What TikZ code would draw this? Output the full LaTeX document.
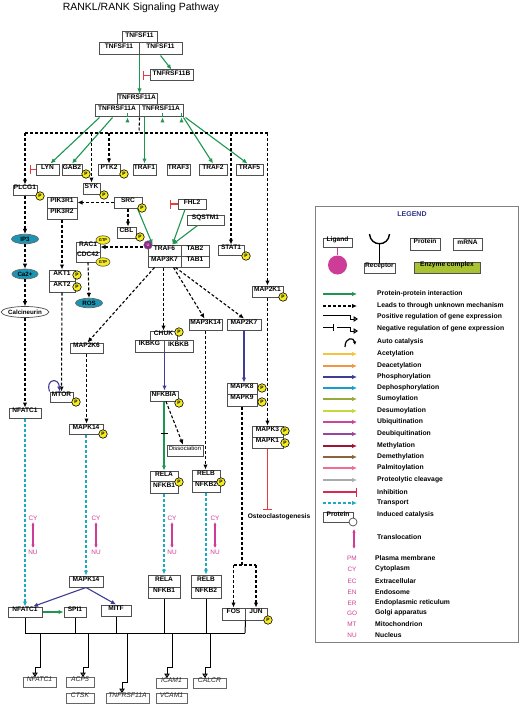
\documentclass[tikz,border=0pt]{standalone}
\usepackage{fontspec}
\setmainfont{Liberation Sans}
\usetikzlibrary{arrows.meta,shapes.geometric,calc,fit}
\definecolor{cPPI}{RGB}{30,150,80}
\definecolor{cPhos}{RGB}{60,62,150}
\definecolor{cInh}{RGB}{230,60,60}
\definecolor{cTr}{RGB}{30,170,190}
\definecolor{cMag}{RGB}{205,60,150}
\definecolor{cEll}{RGB}{25,150,180}
\definecolor{cP}{RGB}{245,235,30}
\definecolor{cBox}{RGB}{80,80,80}
\definecolor{cNavy}{RGB}{50,50,140}
\definecolor{cEnz}{RGB}{168,194,50}
\definecolor{cUb}{RGB}{140,40,140}
\newcommand\bxn[5][]{\node[bx,fit={(#3)(#4)},#1] (#2) {#5};}
\newcommand\gbx[4]{\node[gene,fit={(#2)(#3)}] (#1) {#4};}
\begin{document}
\begin{tikzpicture}[x=1pt,y=-1pt,
  bx/.style={draw=cBox, line width=1pt, fill=white, inner sep=0pt, font=\bfseries\fontsize{6.6}{7}\selectfont},
  gene/.style={draw=black!60, line width=0.8pt, fill=white, inner sep=0pt, font=\itshape\fontsize{6.8}{7}\selectfont, text=black!85},
  pc/.style={circle, draw=black, line width=0.6pt, fill=cP, inner sep=0pt, minimum size=8.5pt, font=\bfseries\fontsize{4.8}{5}\selectfont},
  gtp/.style={ellipse, draw=black!70, line width=0.6pt, fill=cP, inner sep=0pt, minimum width=14pt, minimum height=8.5pt, font=\bfseries\fontsize{4}{4}\selectfont},
  ell/.style={ellipse, draw=black!60, line width=0.7pt, fill=cEll, inner sep=0pt, font=\bfseries\fontsize{6.2}{7}\selectfont},
  ppi/.style={draw=cPPI, line width=1.1pt, -{Latex[length=5pt,width=4.5pt]}},
  unk/.style={draw=black, line width=1.1pt, dash pattern=on 3pt off 2pt, -{Latex[length=5pt,width=4.5pt]}},
  unkl/.style={draw=black, line width=1.1pt, dash pattern=on 3pt off 2pt},
  phos/.style={draw=cPhos, line width=1.1pt, -{Latex[length=5pt,width=4.5pt]}},
  inh/.style={draw=cInh, line width=1.1pt, -{Bar[width=9pt]}},
  tr/.style={draw=cTr, line width=1.2pt, dash pattern=on 3pt off 2pt, -{Latex[length=5pt,width=4.5pt]}},
  trl/.style={draw=cMag, line width=1.2pt, {Latex[length=3.5pt,width=3.5pt]}-{Latex[length=3.5pt,width=3.5pt]}},
  gexp/.style={draw=black, line width=1pt, -{Triangle[open, length=4.5pt, width=5.5pt]}},
  busl/.style={draw=black, line width=1pt},
  cyt/.style={text=cMag, font=\fontsize{6.4}{7}\selectfont, inner sep=1.5pt},
  lt/.style={anchor=west, font=\bfseries\fontsize{6.8}{8}\selectfont, inner sep=0pt}
]
\useasboundingbox (0,0) rectangle (520,706);
\fill[white] (0,0) rectangle (520,706);
\node[font=\fontsize{10.5}{12}\selectfont] (title) at (141,8) {RANKL/RANK Signaling Pathway};

% ---------- boxes ----------
\bxn{tnfA}{122,32}{157,43}{TNFSF11}
\bxn{tnfB}{99,43}{139,55}{TNFSF11}
\bxn{tnfC}{139,43}{182,55}{TNFSF11}
\bxn{opg}{150,70}{193,81}{TNFRSF11B}
\bxn{rankA}{117,94}{157,105}{TNFRSF11A}
\bxn{rankB}{95,105}{139,117}{TNFRSF11A}
\bxn{rankC}{139,105}{183,117}{TNFRSF11A}
\bxn{lyn}{36,164}{59,175}{LYN}
\bxn{gab2}{62,164}{82,175}{GAB2}
\bxn{ptk2}{98,164}{120,175}{PTK2}
\bxn{traf1}{133,164}{156,175}{TRAF1}
\bxn{traf3}{167,164}{190,175}{TRAF3}
\bxn{traf2}{199,164}{227,175}{TRAF2}
\bxn{traf5}{236,164}{263,175}{TRAF5}
\bxn{plcg1}{13,185}{37,195}{PLCG1}
\bxn{syk}{83,183}{100,194}{SYK}
\bxn{src}{114,197}{142,208}{SRC}
\bxn{pik3r1}{47,197}{77,208}{PIK3R1}
\bxn{pik3r2}{47,208}{77,219}{PIK3R2}
\bxn{cbl}{117,227}{136,238}{CBL}
\bxn{fhl2}{178,199}{206,209}{FHL2}
\bxn{sqstm1}{187,215}{224,225}{SQSTM1}
\bxn{traf6}{148,245}{181,256}{TRAF6}
\bxn{tab2}{181,245}{209,256}{TAB2}
\bxn{map3k7}{148,256}{181,267}{MAP3K7}
\bxn{tab1}{181,256}{209,267}{TAB1}
\bxn{stat1}{218,245}{244,255}{STAT1}
\bxn{rac1}{76,242}{100,252}{RAC1}
\bxn{cdc42}{76,252}{100,262}{CDC42}
\bxn{akt1}{49,270}{75,281}{AKT1}
\bxn{akt2}{49,281}{75,292}{AKT2}
\bxn{map2k6}{70,343}{103,353}{MAP2K6}
\bxn{mtor}{50,392}{73,402}{MTOR}
\bxn{nfatc1}{9,408}{41,418}{NFATC1}
\bxn{chuk}{150,331}{177,340}{CHUK}
\bxn{ikbkg}{135,340}{164,352}{IKBKG}
\bxn{ikbkb}{164,340}{193,352}{IKBKB}
\bxn{nfkbia}{150,391}{178,401}{NFKBIA}
\bxn{map3k14}{189,319}{222,330}{MAP3K14}
\bxn{map2k7}{227,319}{261,330}{MAP2K7}
\bxn{map2k1}{252,286}{283,297}{MAP2K1}
\bxn{mapk8}{227,383}{257,394}{MAPK8}
\bxn{mapk9}{227,394}{257,406}{MAPK9}
\bxn{mapk14a}{69,424}{103,434}{MAPK14}
\node[draw=cBox, line width=0.7pt, fill=white, inner sep=0pt, font=\fontsize{6}{7}\selectfont, fit={(167,445)(203,456)}] (dissoc) {Dissociation};
\bxn{rela1}{150,471}{178,481}{RELA}
\bxn{nfkb1a}{150,481}{178,493}{NFKB1}
\bxn{relb1}{192,470}{220,481}{RELB}
\bxn{nfkb2a}{192,481}{220,492}{NFKB2}
\bxn{mapk3}{252,426}{283,437}{MAPK3}
\bxn{mapk1}{252,437}{283,448}{MAPK1}
\node[font=\bfseries\fontsize{6.6}{7}\selectfont] (osteo) at (279,517) {Osteoclastogenesis};
\bxn{mapk14b}{69,576}{103,587}{MAPK14}
\bxn{rela2}{148,575}{180,587}{RELA}
\bxn{nfkb1b}{148,587}{180,598}{NFKB1}
\bxn{relb2}{191,575}{221,587}{RELB}
\bxn{nfkb2b}{191,587}{221,598}{NFKB2}
\bxn{nfatc1b}{8,607}{42,617}{NFATC1}
\bxn{spi1}{64,607}{86,617}{SPI1}
\bxn{mitf}{101,605}{131,616}{MITF}
\bxn{fos}{222,608}{245,620}{FOS}
\bxn{jun}{245,608}{267,620}{JUN}
\gbx{gnfatc1}{23,677}{56,687}{NFATC1}
\gbx{gacp5}{66,677}{94,687}{ACP5}
\gbx{gctsk}{66,693}{94,703}{CTSK}
\gbx{gtnfr}{106,693}{149,703}{TNFRSF11A}
\gbx{gicam}{156,678}{187,688}{ICAM1}
\gbx{gvcam}{156,693}{187,703}{VCAM1}
\gbx{gcalcr}{193,678}{226,688}{CALCR}

% ellipses
\node[ell, minimum width=27pt, minimum height=9.5pt] (ip3) at (25,239) {IP3};
\node[ell, minimum width=26pt, minimum height=10pt] (ca) at (25,274) {Ca2+};
\node[ell, fill=white, draw=black!70, minimum width=46pt, minimum height=11pt] (calcin) at (25,312) {Calcineurin};
\node[ell, minimum width=27pt, minimum height=9.5pt] (ros) at (89,303) {ROS};

% ---------- connectors ----------
% green protein-protein
\draw[ppi] (tnfB.south east) -- (tnfB.south east |- rankA.north);
\draw[ppi] (tnfC.south) -- (opg.north);
\coordinate (opgI) at (143,75.5);
\draw[inh] (opg.west) -- (opgI);
\draw[ppi] ($(rankB.south west)+(5,0)$) -- ($(lyn.north)+(3,0)$);
\draw[ppi] ($(rankB.south west)+(18,0)$) -- (gab2.north);
\draw[ppi] ($(rankB.south west)+(33,0)$) -- ($(rankB.south west)+(33,0)$ |- src.north);
\draw[ppi] (traf1.north |- rankC.south) -- (traf1.north);
\draw[ppi] ($(rankC.south west)+(24,0)$) -- ($(rankC.south west)+(24,0)$ |- traf6.north);
\draw[ppi] ($(rankC.south east)+(-2,0)$) -- ($(rankC.south east)+(-2,0)$ |- traf3.north);
\draw[ppi] (rankC.south east) -- (traf2.north);
\draw[ppi] ($(rankC.south east)+(2,0)$) -- ($(traf5.north)+(-2,0)$);
\draw[ppi] ($(src.south east)+(-5,0)$) -- ($(traf6.north west)+(5,0)$);
\draw[ppi] ($(fhl2.south)+(-7,0)$) -- ($(traf6.north)+(8,0)$);
\draw[ppi] ($(sqstm1.south)+(-8,0)$) -- ($(traf6.north)+(8,0)$);
\draw[ppi] (nfkbia.south) -- coordinate[pos=0.47] (tk) (rela1.north);
\draw[line width=0.9pt] ($(tk)+(-3.5,0)$) -- ($(tk)+(3.5,0)$);
\draw[ppi] (nfatc1b.east) -- (spi1.west);

% inhibition
\coordinate (lynI) at (30,169.5);
\draw[inh] (lyn.west) -- (lynI);
\coordinate (fhlI) at (170,204);
\draw[inh] (fhl2.west) -- (fhlI);
\draw[inh] (mapk1.south) -- (mapk1.south |- osteo.north);

% dashed unknown mechanism
\coordinate (jC) at (139,133);
\coordinate (jL) at (25,133);
\coordinate (jR) at (267.5,133);
\draw[unkl] (rankB.south east) -- (jC);
\draw[unkl] (jL) -- (jR);
\draw[unk] (jL) -- (plcg1.north);
\draw[unk] (syk.north |- jL) -- (syk.north);
\draw[unk] (ptk2.north |- jL) -- (ptk2.north);
\draw[unk] (stat1.north |- jL) -- (stat1.north);
\draw[unk] (jR) -- (map2k1.north);
\draw[unk] (src.west) -- (pik3r1.east);
\draw[unk] (src.south) -- (src.south |- cbl.north);
\draw[unk] (traf6.west |- rac1.east) -- (rac1.east);
\draw[unk] (pik3r2.south) -- (akt1.north);
\draw[unk] (akt2.south) -- (mtor.north);
\draw[unk] (cdc42.south) -- (ros.north);
\draw[unk] (plcg1.south) -- (ip3.north);
\draw[unk] (ip3.south) -- (ca.north);
\draw[unk] (ca.south) -- (calcin.north);
\draw[unk] (calcin.south) -- (nfatc1.north);
\draw[unk] ($(map3k7.south west)+(7,0)$) -- ($(map2k6.north)+(1,0)$);
\draw[unk] (map3k7.south -| chuk.north) -- (chuk.north);
\draw[unk] ($(map3k7.south east)+(-8,0)$) -- ($(map3k14.north)+(-1,0)$);
\draw[unk] ($(map3k7.south east)+(-6,0)$) -- (map2k7.north);
\draw[unk] (map2k6.south) -- (map2k6.south |- mapk14a.north);
\draw[unk] (map3k14.south) -- (map3k14.south |- relb1.north);
\draw[unk] (map2k1.south) -- (map2k1.south |- mapk3.north);
\draw[unk] ($(nfkbia.south)+(2,0)$) -- ($(dissoc.north)+(-2,0)$);
\coordinate (jF) at (242,565);
\coordinate (jF1) at (233.5,565);
\coordinate (jF2) at (256,565);
\draw[unkl] (mapk9.south) -- (jF);
\draw[unkl] (jF1) -- (jF2);
\draw[unk] (jF1) -- (fos.north);
\draw[unk] (jF2) -- (jun.north);

% phosphorylation (blue)
\draw[phos] (ikbkg.south east) -- (ikbkg.south east |- nfkbia.north);
\draw[phos] (map2k7.south) -- (map2k7.south |- mapk8.north);
\draw[phos] (mapk14b.south) -- ($(nfatc1b.north)+(8,0)$);
\draw[phos] (mapk14b.south) -- (mitf.north);
\draw[phos] (mtor.north west) .. controls (45,379) and (59,377) .. ($(mtor.north)+(-2,0)$);

% transport
\draw[tr] (nfatc1.south) -- (nfatc1b.north);
\draw[tr] (mapk14a.south) -- (mapk14b.north);
\draw[tr] (nfkb1a.south) -- (rela2.north);
\draw[tr] (nfkb2a.south) -- (relb2.north);

% translocation labels
\foreach \xx [count=\i] in {33,96,172,215}{
  \node[cyt] (cy\i) at (\xx,518) {CY};
  \node[cyt] (nu\i) at (\xx,552) {NU};
  \draw[trl] (cy\i) -- (nu\i);
}

% gene expression bus
\coordinate (bL) at (25,633);
\coordinate (bR) at (245,633);
\draw[busl] (bL) -- (bR);
\draw[busl] (nfatc1b.south) -- (nfatc1b.south |- bL);
\draw[busl] (spi1.south) -- (spi1.south |- bL);
\draw[busl] (mitf.south) -- (mitf.south |- bL);
\draw[busl] (nfkb1b.south) -- (nfkb1b.south |- bL);
\draw[busl] (nfkb2b.south) -- (nfkb2b.south |- bL);
\draw[busl] (fos.south east) -- (bR);
\coordinate (b1) at (40,633);
\coordinate (b2) at (88,633);
\coordinate (b3) at (127,633);
\coordinate (b4) at (172,633);
\coordinate (b5) at (210,633);
\draw[gexp] (b1) -- ++(0,34) -- ++(-5,0) -- (35,677);
\draw[gexp] (b2) -- ++(0,34) -- ++(-5,0) -- (83,677);
\draw[gexp] (b3) -- ++(0,49) -- ++(-5,0) -- (122,693);
\draw[gexp] (b4) -- ++(0,34) -- ++(-5,0) -- (167,678);
\draw[gexp] (b5) -- ++(0,34) -- ++(-5,0) -- (205,678);

% P circles, GTP, Ub
\node[pc] (p1) at (86,174) {P};
\node[pc] (p2) at (124,174) {P};
\node[pc] (p3) at (40,196) {P};
\node[pc] (p4) at (104,195) {P};
\node[pc] (p5) at (142,208) {P};
\node[pc] (p6) at (140,237) {P};
\node[pc] (p7) at (246,256) {P};
\node[pc] (p8) at (77,275) {P};
\node[pc] (p9) at (77,287) {P};
\node[pc] (p10) at (76,402) {P};
\node[pc] (p11) at (179,332) {P};
\node[pc] (p12) at (179,403) {P};
\node[pc] (p13) at (283,297) {P};
\node[pc] (p14) at (262,388) {P};
\node[pc] (p15) at (262,402) {P};
\node[pc] (p16) at (103,434) {P};
\node[pc] (p17) at (179,482) {P};
\node[pc] (p18) at (221,482) {P};
\node[pc] (p19) at (285,431) {P};
\node[pc] (p20) at (285,443) {P};
\node[pc] (p21) at (268,620) {P};
\node[gtp] (g1) at (103,240) {GTP};
\node[gtp] (g2) at (103,262) {GTP};
\node[circle, fill=cUb, draw=black!60, line width=0.4pt, minimum size=8.5pt, inner sep=0pt, text=white, font=\fontsize{4}{4}\selectfont] (ub) at (148,245) {U};

% ---------- legend ----------
\node[draw=gray, line width=1pt, fit={(315,206)(518,642)}, inner sep=0pt] (legbox) {};
\node[font=\bfseries\fontsize{7}{8}\selectfont, text=cNavy] (legt) at (412,214) {LEGEND};
\bxn{lig}{323,238}{352,247}{Ligand}
\node[circle, fill=cMag, minimum size=19pt, inner sep=0pt] (ligc) at (337.5,265) {};
\draw[cMag, line width=1.3pt] (lig.south) -- (ligc.north);
\bxn{rec}{364,263}{395,273}{Receptor}
\coordinate (recc) at (379.5,244);
\draw[line width=1.4pt] (369.5,234) .. controls (370.5,247) and (388.5,247) .. (389.5,234);
\draw[line width=1.4pt] (recc) -- (rec.north);
\bxn{prot}{410,238}{440,250}{Protein}
\bxn{mrna}{453,238}{482,250}{mRNA}
\bxn[fill=cEnz]{enz}{414,262}{480,273}{Enzyme complex}

\draw[ppi] (323,294) -- (357,294);
\node[lt] (lgA) at (377,294) {Protein-protein interaction};
\draw[unk] (323,306) -- (357,306);
\node[lt] (lgB) at (377,306) {Leads to through unknown mechanism};
\draw[gexp] (323,315) -- (350,315) -- (350,319) -- (358,319);
\node[lt] (lgC) at (377,317) {Positive regulation of gene expression};
\draw[line width=1pt, -{Bar[width=7pt]}] (323,327) -- (334,327);
\draw[gexp] (337,327) -- (350,327) -- (350,331) -- (358,331);
\node[lt] (lgD) at (377,329) {Negative regulation of gene expression};
\draw[line width=1.2pt, -{Latex[length=3.5pt,width=3.5pt]}] (345,347) .. controls (345,337) and (354,337) .. (355,345);
\node[lt] (lgE) at (377,342) {Auto catalysis};
\foreach \yy/\cc/\lbl [count=\i] in {
  354/{rgb,255:red,245;green,195;blue,60}/Acetylation,
  366/{rgb,255:red,240;green,150;blue,70}/Deacetylation,
  377/cPhos/Phosphorylation,
  388/{rgb,255:red,20;green,160;blue,200}/Dephosphorylation,
  399/{rgb,255:red,150;green,170;blue,60}/Sumoylation,
  411/{rgb,255:red,200;green,215;blue,60}/Desumoylation,
  422/{rgb,255:red,200;green,70;blue,160}/Ubiquitination,
  434/{rgb,255:red,150;green,70;blue,160}/Deubiquitination,
  446/{rgb,255:red,160;green,20;blue,50}/Methylation,
  457/{rgb,255:red,140;green,100;blue,60}/Demethylation,
  468/{rgb,255:red,240;green,110;blue,140}/Palmitoylation,
  480/{rgb,255:red,170;green,170;blue,170}/Proteolytic cleavage}{
  \draw[draw=\cc, line width=1.3pt, -{Latex[length=5pt,width=4.5pt]}] (323,\yy) -- (357,\yy);
  \node[lt] (lgc\i) at (377,\yy) {\lbl};
}
\draw[draw={rgb,255:red,220;green,40;blue,80}, line width=1.3pt, -{Bar[width=9pt]}] (323,492) -- (357,492);
\node[lt] (lgF) at (377,492) {Inhibition};
\draw[tr] (323,503) -- (357,503);
\node[lt] (lgG) at (377,503) {Transport};
\bxn{icprot}{323,512}{353,522}{Protein}
\node[circle, draw=black!70, fill=white, line width=0.7pt, minimum size=8pt, inner sep=0pt] (icc) at (353,522) {};
\node[lt] (lgH) at (377,515) {Induced catalysis};
\coordinate (tl1) at (354,529);
\coordinate (tl2) at (354,549);
\draw[trl] (tl1) -- (tl2);
\node[lt] (lgI) at (377,537) {Translocation};
\foreach \yy/\ab/\lbl [count=\i] in {558/PM/Plasma membrane, 569/CY/Cytoplasm, 581/EC/Extracellular, 592/EN/Endosome, 603/ER/Endoplasmic reticulum, 613/GO/Golgi apparatus, 624/MT/Mitochondrion, 635/NU/Nucleus}{
  \node[cyt] (cmp\i) at (352,\yy) {\ab};
  \node[lt] (cmt\i) at (375,\yy) {\lbl};
}
\end{tikzpicture}
\end{document}
